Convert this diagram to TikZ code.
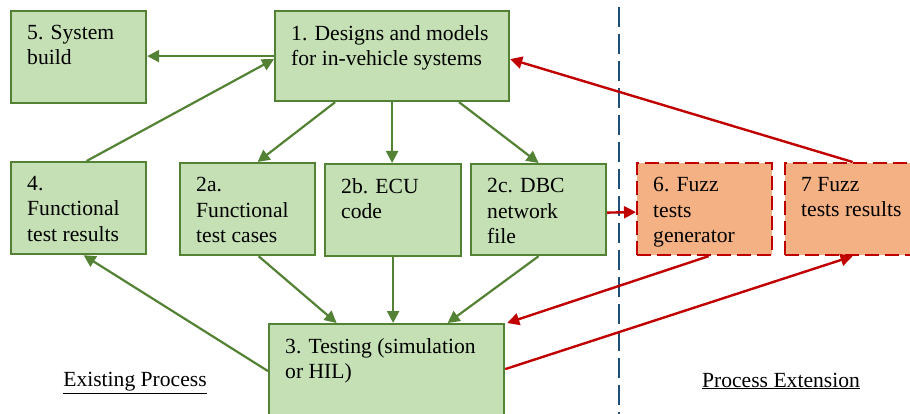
\documentclass[tikz,border=0pt]{standalone}
\usepackage{fontspec}
\setmainfont{Liberation Serif}
\newfontfamily\tnrfont{Liberation Serif}
\usepackage{tikz}
\usetikzlibrary{arrows.meta, positioning}
\usepackage{xcolor}
\definecolor{gline}{HTML}{548235}
\definecolor{gfill}{HTML}{C5E0B4}
\definecolor{fline}{HTML}{C00000}
\definecolor{ffill}{HTML}{F4B183}
\definecolor{divcol}{HTML}{1F4E79}

\begin{document}
\begin{tikzpicture}[
    x=1pt, y=-1pt,
    font=\tnrfont\fontsize{21.6}{25.5}\selectfont,
    boxtxt/.style={anchor=north west, align=left, inner sep=0pt,
                   xshift=17pt, yshift=-15pt},
    gbox/.style={rectangle, draw=gline, fill=gfill, line width=2.2pt,
                 minimum width=135pt, minimum height=92pt, inner sep=0pt,
                 anchor=north west, label={[boxtxt]north west:#1}},
    fzbox/.style={rectangle, draw=fline, fill=ffill, line width=2.2pt,
                  dash pattern=on 14pt off 6pt,
                  minimum width=135pt, minimum height=92pt, inner sep=0pt,
                  anchor=north west, label={[boxtxt]north west:#1}},
    garr/.style={-{Triangle[length=12pt,width=12pt]}, line width=2.2pt, gline},
    rarr/.style={-{Triangle[length=12pt,width=12pt]}, line width=2.4pt, fline},
    divline/.style={divcol, line width=2.4pt, dash pattern=on 20pt off 7pt},
    note/.style={inner sep=0pt},
]
  \clip (0,0) rectangle (910,414);

  % Top row
  \node[gbox={5. System\\build}] (b5) at (10,10) {};
  \node[gbox={1. Designs and models\\for in-vehicle systems},
        minimum width=234pt, minimum height=90pt] (b1) at (274,10) {};

  % Middle row
  \node[gbox={4.\\Functional\\test results}] (b4) at (10,161) {};
  \node[gbox={2a.\\Functional\\test cases}] (b2a) at (179,162) {};
  \node[gbox={2b. ECU\\code}, minimum width=136pt] (b2b) at (324,163) {};
  \node[gbox={2c. DBC\\network\\file}, minimum height=91pt] (b2c) at (470,163) {};

  % Extension boxes
  \node[fzbox={6. Fuzz\\tests\\generator}] (b6) at (636,162) {};
  \node[fzbox={7 Fuzz\\tests results}] (b7) at (784,162) {};

  % Bottom
  \node[gbox={3. Testing (simulation\\or HIL)},
        minimum width=235pt, minimum height=94pt] (b3) at (268,323) {};

  % Divider and captions
  \coordinate (dtop) at (619,7);
  \coordinate (dbot) at (619,414);
  \draw[divline] (dtop) -- (dbot);
  \node[note] (exist) at (135,383) {\underline{Existing Process}};
  \node[note] (ext) at (781,381) {\underline{Process Extension}};

  % Existing process flow
  \draw[garr] (b1.west) -- (b1.west -| b5.east);
  \draw[garr] ([xshift=8pt]b4.north) -- ([yshift=-3pt]b1.west);
  \draw[garr] ([xshift=-57pt]b1.south) -- ([xshift=10pt]b2a.north);
  \draw[garr] (b1.south) -- (b1.south |- b2b.north);
  \draw[garr] ([xshift=67pt]b1.south) -- (b2c.north);
  \draw[garr] ([xshift=11pt]b2a.south) -- ([xshift=-50pt]b3.north);
  \draw[garr] (b2b.south) -- (b2b.south |- b3.north);
  \draw[garr] (b2c.south) -- ([xshift=61pt]b3.north);
  \draw[garr] (b3.west) -- ([xshift=5pt]b4.south);

  % Extension flow
  \draw[rarr] ([yshift=-3pt]b2c.east) -- ([yshift=-3pt]b6.west);
  \draw[rarr] ([xshift=4pt]b6.south) -- ([xshift=2pt]b3.north east);
  \draw[rarr] ([yshift=2pt]b3.east) -- (b7.south);
  \draw[rarr] (b7.north) -- ([yshift=-3pt]b1.east);

\end{tikzpicture}
\end{document}
